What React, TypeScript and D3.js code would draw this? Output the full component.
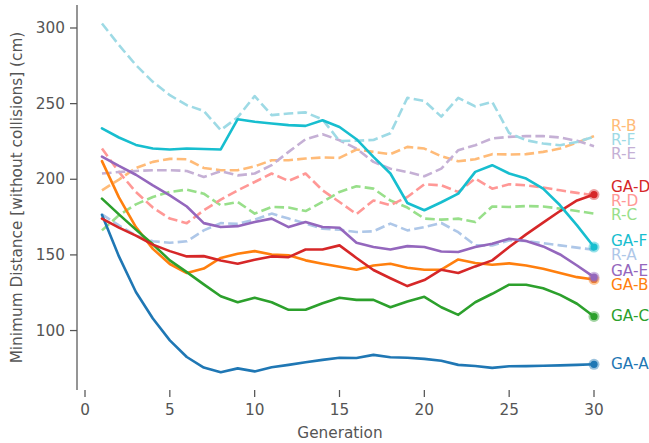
import React from "react";
import * as d3 from "d3";

const generations = d3.range(1, 31);

const GA_A = [176.5,149,125.5,108,93.5,82.5,75.5,72.5,75,73,75.7,77.3,79,80.6,82,81.9,83.9,82.3,82,81.3,80,77.3,76.6,75.3,76.4,76.5,76.7,77,77.3,77.7];
const GA_B = [212,188,168.4,154,144,138,141,148,150.8,152.5,150.3,149.7,146.4,144.2,142.2,140.2,143,144.2,141.5,140.2,140.2,147,144.6,143.5,144.4,143,140.9,138,135.3,133.8];
const GA_C = [187.2,176.8,166.7,157,146.4,138.6,130.5,122.7,118.7,121.7,118.7,113.7,113.7,118,121.7,120.3,120.3,115.4,119.2,122.3,115.4,110.4,118.7,124.3,130.3,130.3,128,123.6,117.7,109.3];
const GA_D = [174,168,162.7,156.8,152.5,149,149.2,146.3,144.2,146.8,149,148.5,153.6,153.6,156.3,148,140,134.6,129.4,133.4,140.2,138,142.4,146.4,155.2,163.6,171.3,179,186,189.9];
const GA_E = [215,208.8,203,196,189.4,182,171,168.4,169,171.7,174,168.4,171.7,168.4,168,158,155.2,153.6,155.8,155.2,152.3,151.9,155.2,157.4,160.7,159.2,155.6,150.3,143,135.3];
const GA_F = [233.6,227.6,222.7,220.3,219.7,220.3,220,219.7,239.7,238,236.9,235.8,235.3,239,234.6,226.5,214.8,203.8,184.3,179.5,184.8,190.5,204.9,209.3,203.8,200.5,193.8,182.8,169.5,155.2];

const R_A = [176.8,169.5,162.9,159,158,159,166.2,171,170.5,173.3,177.3,174,170.7,167.3,166.7,165.1,165.6,170.7,166.2,168.4,171.1,165,156.3,156.3,159.6,159.2,157.8,156.3,154.8,153.4];
const R_B = [192.7,199.8,207.5,211.5,213.5,213.2,207.5,206,206,208.5,212.6,212.6,213.7,214.4,214.1,219.7,218.1,216.6,221.4,220.3,215.2,211.9,213.2,216.6,216.4,216.6,218.1,220.3,224.2,228.5];
const R_C = [166.2,176.2,183.4,188.3,191.6,193.2,190.5,182.8,185,177.3,181.7,181.3,179,185,191.6,195.4,193.8,186,181.3,174,173.3,174,171.7,182,181.7,182.3,182,180.6,179,177.3];
const R_D = [220.3,204.8,191.6,181.3,174,171,179.5,186.5,192.7,198.2,203.8,198.9,203.8,192.7,185,177,186,182.8,188.3,196.7,196,191.6,200.5,193.8,196.7,196,194.5,192.7,191,189.4];
const R_E = [203.8,204.8,205.5,206,206,205.5,201.5,205.3,202.6,203.8,209.3,218.1,226.5,229.8,225.8,220.3,211.5,207,204.8,202,207,219.2,222.5,227,228,228.5,228.5,227.6,225.4,221.9];
const R_F = [303,288.7,275.5,264.4,255.6,249,245.2,232.5,241,255,242.4,243.5,244.2,239.5,225.3,225.5,226,230.4,253.8,251.8,241.4,253.8,248.2,251.2,230.5,225.8,223.6,222.5,224.7,228];

const xTicks = [0, 5, 10, 15, 20, 25, 30];
const yTicks = [100, 150, 200, 250, 300];

const seriesNames = ["R-A","R-B","R-C","R-D","R-E","R-F","GA-A","GA-B","GA-C","GA-D","GA-E","GA-F"];
const seriesValues = [R_A, R_B, R_C, R_D, R_E, R_F, GA_A, GA_B, GA_C, GA_D, GA_E, GA_F];
const seriesColors = ["#aec7e8","#ffbb78","#98df8a","#ff9896","#c5b0d5","#9edae5","#1f77b4","#ff7f0e","#2ca02c","#d62728","#9467bd","#17becf"];

const W = 649, H = 443;
const FONT = "'DejaVu Sans', sans-serif";
const TEXT = "#555555";

export default function App() {
  const x = d3.scaleLinear().domain([0, 30]).range([85, 594]);
  const y = d3.scaleLinear().domain([60.7, 315.2]).range([390, 5]);
  const line = d3.line<number>().x((_, i) => x(generations[i])).y((d) => y(d));

  // label placement with simple repel
  const labels = seriesNames.map((name, i) => ({
    name,
    color: seriesColors[i],
    y: y(seriesValues[i][seriesValues[i].length - 1]),
    order: i,
  }));
  labels.sort((a, b) => a.y - b.y || (a.name.startsWith("R-B") ? -1 : 0));
  const gap = 14;
  for (let it = 0; it < 200; it++) {
    for (let i = 1; i < labels.length; i++) {
      const d = labels[i].y - labels[i - 1].y;
      if (d < gap) {
        const push = (gap - d) / 2;
        labels[i].y += push;
        labels[i - 1].y -= push;
      }
    }
  }

  return (
    <svg width={W} height={H} style={{ position: "absolute", left: 0, top: 0, background: "#fff" }} fontFamily={FONT}>
      {/* y axis */}
      <line x1={77} x2={77} y1={5} y2={390} stroke={TEXT} strokeWidth={1.25} />
      {yTicks.map((t) => (
        <g key={t}>
          <line x1={70} x2={77} y1={y(t)} y2={y(t)} stroke={TEXT} strokeWidth={1.25} />
          <text x={65} y={y(t)} textAnchor="end" dominantBaseline="central" fontSize={15.3} fill={TEXT}>{t}</text>
        </g>
      ))}
      {xTicks.map((t) => (
        <g key={t}>
          <line x1={x(t)} x2={x(t)} y1={390} y2={397} stroke={TEXT} strokeWidth={1.25} />
          <text x={x(t)} y={410} textAnchor="middle" dominantBaseline="central" fontSize={15.3} fill={TEXT}>{t}</text>
        </g>
      ))}
      <text x={340} y={433} textAnchor="middle" dominantBaseline="central" fontSize={15.3} fill={TEXT}>Generation</text>
      <text transform={`translate(17,${197.5}) rotate(-90)`} textAnchor="middle" dominantBaseline="central" fontSize={15.3} fill={TEXT}>
        Minimum Distance [without collisions] (cm)
      </text>

      {seriesValues.map((vals, i) => {
        const dashed = seriesNames[i].startsWith("R-");
        return (
          <path key={seriesNames[i]} d={line(vals) || ""} fill="none" stroke={seriesColors[i]} strokeWidth={2.6}
            strokeDasharray={dashed ? "9.6,4.2" : undefined} strokeLinejoin="round" strokeLinecap={dashed ? "butt" : "round"} />
        );
      })}
      {seriesValues.map((vals, i) => {
        if (seriesNames[i].startsWith("R-")) return null;
        const v = vals[vals.length - 1];
        return (
          <g key={"m" + i}>
            <circle cx={x(30)} cy={y(v)} r={5.5} fill={seriesColors[i]} opacity={0.45} />
            <circle cx={x(30)} cy={y(v)} r={3.6} fill={seriesColors[i]} />
          </g>
        );
      })}
      {labels.map((l) => (
        <text key={l.name} x={611} y={l.y} dominantBaseline="central" fontSize={15.3} fill={l.color}>{l.name}</text>
      ))}
    </svg>
  );
}
